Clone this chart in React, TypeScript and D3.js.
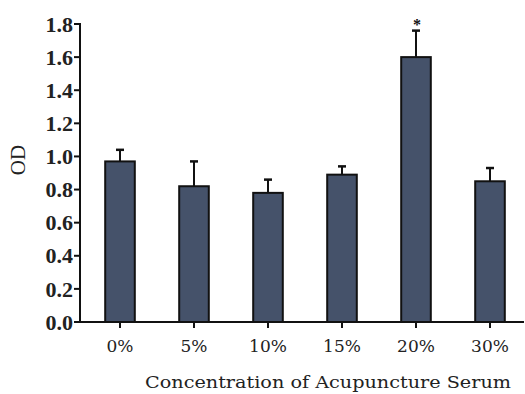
import React, { useEffect, useRef } from 'react';
import * as d3 from 'd3';

const categories = ["0%", "5%", "10%", "15%", "20%", "30%"];
const means = [0.97, 0.82, 0.78, 0.89, 1.60, 0.85];
const errors = [0.07, 0.15, 0.08, 0.05, 0.16, 0.08];
const significant = [false, false, false, false, true, false];
const yTicks = [0, 0.2, 0.4, 0.6, 0.8, 1.0, 1.2, 1.4, 1.6, 1.8];

const App = () => {
    const ref = useRef<SVGSVGElement>(null);

    useEffect(() => {
        const width = 525;
        const height = 394;
        const svg = d3.select(ref.current);
        svg.selectAll("*").remove();

        const left = 80;
        const axisRight = 524;

        const x = d3.scaleBand<string>()
            .domain(categories)
            .range([83, 527])
            .paddingInner(0.6)
            .paddingOuter(0.3);

        const y = d3.scaleLinear()
            .domain([0, 1.8])
            .range([322, 24]);

        const serif = "'Liberation Serif', 'DejaVu Serif', serif";
        const wideSerif = "'DejaVu Serif', serif";

        // y axis
        const yAxis = svg.append("g").attr("transform", `translate(${left},0)`);
        yAxis.append("line")
            .attr("x1", 0).attr("x2", 0)
            .attr("y1", y(1.8) - 1).attr("y2", y(0) + 1)
            .attr("stroke", "#111").attr("stroke-width", 2);
        yAxis.selectAll("line.tick")
            .data(yTicks)
            .enter()
            .append("line")
            .attr("class", "tick")
            .attr("x1", -6).attr("x2", 0)
            .attr("y1", d => y(d)).attr("y2", d => y(d))
            .attr("stroke", "#111").attr("stroke-width", 2);
        yAxis.selectAll("text")
            .data(yTicks)
            .enter()
            .append("text")
            .attr("x", -7)
            .attr("y", d => y(d))
            .attr("dy", "0.35em")
            .attr("text-anchor", "end")
            .attr("font-family", serif)
            .attr("font-weight", "bold")
            .attr("font-size", 22)
            .attr("fill", "#222")
            .text(d => d.toFixed(1));

        // bars
        svg.selectAll("rect.bar")
            .data(means)
            .enter()
            .append("rect")
            .attr("class", "bar")
            .attr("x", (d, i) => x(categories[i])!)
            .attr("y", d => y(d))
            .attr("width", x.bandwidth())
            .attr("height", d => y(0) - y(d))
            .attr("fill", "#45526a")
            .attr("stroke", "#111")
            .attr("stroke-width", 2);

        // error bars (upper only)
        const cx = (i: number) => x(categories[i])! + x.bandwidth() / 2;
        const err = svg.append("g");
        means.forEach((m, i) => {
            err.append("line")
                .attr("x1", cx(i)).attr("x2", cx(i))
                .attr("y1", y(m)).attr("y2", y(m + errors[i]))
                .attr("stroke", "#111").attr("stroke-width", 2);
            err.append("line")
                .attr("x1", cx(i) - 4).attr("x2", cx(i) + 4)
                .attr("y1", y(m + errors[i])).attr("y2", y(m + errors[i]))
                .attr("stroke", "#111").attr("stroke-width", 2.5);
            if (significant[i]) {
                err.append("text")
                    .attr("x", cx(i) + 1)
                    .attr("y", y(m + errors[i]) - 1)
                    .attr("text-anchor", "middle")
                    .attr("font-family", serif)
                    .attr("font-weight", "bold")
                    .attr("font-size", 16)
                    .attr("fill", "#111")
                    .text("*");
            }
        });

        // x axis
        const xAxis = svg.append("g").attr("transform", `translate(0,${y(0)})`);
        xAxis.append("line")
            .attr("x1", left - 1).attr("x2", axisRight)
            .attr("y1", 0).attr("y2", 0)
            .attr("stroke", "#111").attr("stroke-width", 2);
        xAxis.selectAll("line.tick")
            .data(categories)
            .enter()
            .append("line")
            .attr("class", "tick")
            .attr("x1", d => x(d)! + x.bandwidth() / 2)
            .attr("x2", d => x(d)! + x.bandwidth() / 2)
            .attr("y1", 0).attr("y2", 6)
            .attr("stroke", "#111").attr("stroke-width", 2);
        xAxis.selectAll("text")
            .data(categories)
            .enter()
            .append("text")
            .attr("x", d => x(d)! + x.bandwidth() / 2)
            .attr("y", 30)
            .attr("text-anchor", "middle")
            .attr("font-family", wideSerif)
            .attr("font-size", 17)
            .attr("fill", "#222")
            .text(d => d);

        // axis titles
        svg.append("text")
            .attr("x", 328)
            .attr("y", 388)
            .attr("text-anchor", "middle")
            .attr("font-family", wideSerif)
            .attr("font-size", 17)
            .attr("textLength", 366)
            .attr("lengthAdjust", "spacingAndGlyphs")
            .attr("fill", "#222")
            .text("Concentration of Acupuncture Serum");

        svg.append("text")
            .attr("transform", `translate(25,160) rotate(-90)`)
            .attr("text-anchor", "middle")
            .attr("font-family", serif)
            .attr("font-size", 21)
            .attr("fill", "#222")
            .text("OD");

        svg.attr("width", width).attr("height", height);
    }, []);

    return (
        <svg ref={ref} width={525} height={394}
            style={{ position: "absolute", left: 0, top: 0, background: "#fff" }} />
    );
};

export default App;
